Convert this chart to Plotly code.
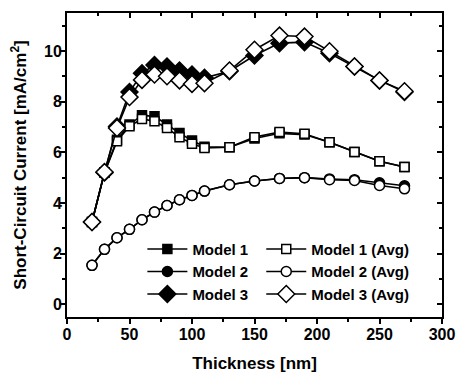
import plotly.graph_objects as go

thickness = [20, 30, 40, 50, 60, 70, 80, 90, 100, 110, 130, 150, 170, 190, 210, 230, 250, 270]

model1 = [3.25, 5.2, 6.5, 7.1, 7.46, 7.42, 7.1, 6.76, 6.47, 6.22, 6.2, 6.55, 6.75, 6.7, 6.4, 6.01, 5.65, 5.42]
model1_avg = [3.25, 5.2, 6.44, 7.03, 7.32, 7.23, 6.96, 6.6, 6.34, 6.17, 6.2, 6.6, 6.8, 6.73, 6.4, 6.01, 5.65, 5.42]
model2 = [1.54, 2.17, 2.63, 2.96, 3.34, 3.64, 3.9, 4.13, 4.3, 4.47, 4.72, 4.87, 4.97, 5.0, 4.95, 4.92, 4.8, 4.68]
model2_avg = [1.54, 2.17, 2.63, 2.96, 3.34, 3.64, 3.9, 4.13, 4.3, 4.47, 4.72, 4.87, 4.97, 5.0, 4.92, 4.89, 4.69, 4.56]
model3 = [3.25, 5.2, 7.02, 8.38, 9.12, 9.45, 9.39, 9.23, 9.07, 8.94, 9.2, 9.82, 10.31, 10.35, 9.91, 9.39, 8.84, 8.38]
model3_avg = [3.25, 5.22, 6.96, 8.18, 8.86, 9.07, 9.0, 8.84, 8.7, 8.73, 9.23, 10.05, 10.61, 10.57, 9.99, 9.39, 8.84, 8.41]

x_ticks = [0, 50, 100, 150, 200, 250, 300]
y_ticks = [0, 2, 4, 6, 8, 10]

FONT = "Liberation Sans, Arial, sans-serif"

fig = go.Figure()

def add(name, y, symbol, size, filled, legend):
    fig.add_trace(go.Scatter(
        x=thickness, y=y, name=name, mode="lines+markers",
        line=dict(color="black", width=1.6),
        marker=dict(symbol=symbol, size=size,
                    color="black" if filled else "white",
                    line=dict(color="black", width=1.5)),
        legend=legend,
    ))

add("Model 1", model1, "square", 9, True, "legend")
add("Model 2", model2, "circle", 10, True, "legend")
add("Model 3", model3, "diamond", 13, True, "legend")
add("Model 1 (Avg)", model1_avg, "square", 9, False, "legend2")
add("Model 2 (Avg)", model2_avg, "circle", 10, False, "legend2")
add("Model 3 (Avg)", model3_avg, "diamond", 13, False, "legend2")

# dummy traces for the tick-only overlay axes
fig.add_trace(go.Scatter(x=[None], y=[None], xaxis="x2", yaxis="y2", showlegend=False, hoverinfo="skip"))
fig.add_trace(go.Scatter(x=[None], y=[None], xaxis="x3", yaxis="y3", showlegend=False, hoverinfo="skip"))

tickfont = dict(family=FONT, size=16, color="black", weight="bold")
titlefont = dict(family=FONT, size=17, color="black", weight="bold")
legfont = dict(family=FONT, size=15, color="black", weight="bold")

def tick_axis(side, rng, vals, direction, minor_dtick, overlay):
    return dict(
        overlaying=overlay, side=side, range=rng, tickvals=vals, showticklabels=False,
        ticks=direction, ticklen=5, tickwidth=1.5, tickcolor="black",
        minor=dict(ticks=direction, ticklen=3, tickwidth=1.5, tickcolor="black", dtick=minor_dtick, tick0=0),
        showline=True, linecolor="black", linewidth=2, showgrid=False, zeroline=False,
        automargin=False,
    )

fig.update_layout(
    width=458, height=373,
    margin=dict(l=67, r=16, t=13, b=56, autoexpand=False),
    paper_bgcolor="white", plot_bgcolor="white",
    font=dict(family=FONT, color="black"),
    xaxis=dict(
        range=[0, 300], tickvals=x_ticks, ticktext=[str(v) for v in x_ticks],
        ticks="", showline=True, linecolor="black", linewidth=2, showgrid=False, zeroline=False,
        tickfont=tickfont, ticklabelstandoff=2, automargin=False,
        title=dict(text="Thickness [nm]", font=titlefont, standoff=24),
    ),
    yaxis=dict(
        range=[-0.5, 11.5], tickvals=y_ticks, ticktext=[str(v) for v in y_ticks],
        ticks="", ticklen=0, showline=True, linecolor="black", linewidth=2, showgrid=False, zeroline=False,
        tickfont=tickfont, automargin=False,
        title=dict(text="Short-Circuit Current [mA/cm<sup>2</sup>]", font=titlefont, standoff=13),
    ),
    xaxis2=tick_axis("top", [0, 300], x_ticks, "inside", 25, "x"),
    yaxis2=tick_axis("right", [-0.5, 11.5], y_ticks, "inside", 1, "y"),
    xaxis3=tick_axis("bottom", [0, 300], x_ticks, "outside", 25, "x"),
    yaxis3=tick_axis("left", [-0.5, 11.5], y_ticks, "outside", 1, "y"),
    legend=dict(
        x=0.201, y=0.277, xanchor="left", yanchor="top", bgcolor="rgba(0,0,0,0)",
        font=legfont, tracegroupgap=0, itemwidth=40, traceorder="normal",
    ),
    legend2=dict(
        x=0.518, y=0.277, xanchor="left", yanchor="top", bgcolor="rgba(0,0,0,0)",
        font=legfont, tracegroupgap=0, itemwidth=40, traceorder="normal",
    ),
    showlegend=True,
)

fig.write_html("out.html", config={"displayModeBar": False},
               post_script="document.body.style.margin='0';document.body.style.overflow='hidden';")
